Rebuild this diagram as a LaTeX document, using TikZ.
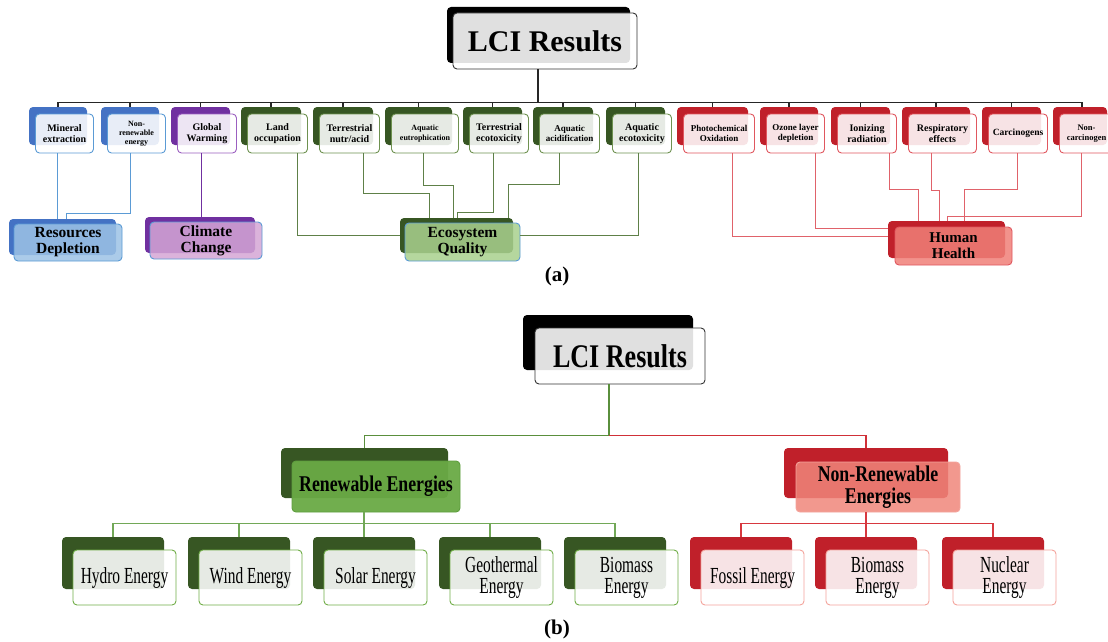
\documentclass[tikz,border=0pt]{standalone}
\usepackage{fontspec}
\setmainfont{Liberation Serif}
\newfontfamily\condf[FakeStretch=0.79]{Liberation Serif}
\newfontfamily\condg[FakeStretch=0.67]{Liberation Serif}
\usetikzlibrary{calc}
\definecolor{gback}{HTML}{375623}
\definecolor{gbord}{HTML}{6E9150}
\definecolor{gline}{HTML}{5E8048}
\definecolor{rback}{HTML}{C0202A}
\definecolor{rbord}{HTML}{E0575F}
\definecolor{rline}{HTML}{E0626A}
\definecolor{bback}{HTML}{4472C4}
\definecolor{bbord}{HTML}{5B9BD5}
\definecolor{pback}{HTML}{7030A0}
\definecolor{pbord}{HTML}{9B5FC0}
\definecolor{resfill}{HTML}{9DC3E6}
\definecolor{climfill}{HTML}{D5A6D5}
\definecolor{eqfill}{HTML}{A9D18E}
\definecolor{hhfill}{HTML}{F08078}
\definecolor{renfill}{HTML}{6AAA45}
\definecolor{renbord}{HTML}{5E9E3E}
\definecolor{nrfill}{HTML}{F0867B}
\definecolor{gbordb}{HTML}{70AD47}
\definecolor{rbordb}{HTML}{F4A49C}
\definecolor{glineb}{HTML}{5A8F3C}
\definecolor{rlineb}{HTML}{D03038}
\definecolor{glinec}{HTML}{72A857}
\definecolor{rlinec}{HTML}{D7383F}
\definecolor{lcibord}{HTML}{333333}
\newcommand\fs[2]{\fontsize{#1}{#2}\selectfont}
\newcommand\bx[7]{\node[#2, minimum width={(#5)-(#3)}, minimum height={(#6)-(#4)}] (#1) at ({((#3)+(#5))/2},{((#4)+(#6))/2}) {#7};}
\newcommand\rowa[7]{%
  \bx{#1B}{bkbox=#2}{#4}{107}{#5}{145}{}%
  \bx{#1}{frbox=#3,font=\bfseries#6}{#4+6.5}{114}{#5+6.5}{153}{#7}}
\newcommand\rowb[5]{%
  \bx{#1B}{bkbox=#2}{#4}{537}{#4+102}{589}{}%
  \bx{#1}{frbox=#3,font=\condg\fs{23}{21}}{#4+11}{550}{#4+114}{605}{#5}}
\begin{document}
\begin{tikzpicture}[x=1pt,y=-1pt,
  bkbox/.style={rectangle, rounded corners=4pt, inner sep=0pt, fill=#1},
  frbox/.style={rectangle, rounded corners=4pt, inner sep=0pt, align=center,
     draw=#1, line width=0.9pt, fill=white, fill opacity=0.88, text opacity=1, draw opacity=1},
  busl/.style={draw=black!85, line width=1.3pt},
  al/.style={draw=#1, line width=1pt},
  ul/.style={draw=#1, line width=1.8pt},
  sl/.style={draw=#1, line width=1.2pt},
  captext/.style={font=\bfseries\fs{21}{22}}]
\useasboundingbox[fill=white] (0,0) rectangle (1108,642);

% ---------- (a) ----------
\bx{lciaB}{bkbox=black}{447}{7}{630}{63}{}
\bx{lcia}{frbox=lcibord,font=\bfseries\fs{30}{32}}{453}{13}{637}{69}{LCI Results}

\rowa{mineral}{bback}{bbord}{29}{87}{\fs{10}{11}}{Mineral\\extraction}
\rowa{nonren}{bback}{bbord}{101}{159}{\fs{8}{9}}{Non-\\renewable\\energy}
\rowa{global}{pback}{pbord}{171}{230}{\fs{10}{11}}{Global\\Warming}
\rowa{land}{gback}{gbord}{241}{301}{\fs{10}{11}}{Land\\occupation}
\rowa{ternut}{gback}{gbord}{313}{373}{\fs{10}{11}}{Terrestrial\\nutr/acid}
\rowa{aqeut}{gback}{gbord}{385}{452}{\fs{8}{10}}{Aquatic\\eutrophication}
\rowa{tereco}{gback}{gbord}{463}{522}{\fs{10}{11}}{Terrestrial\\ecotoxicity}
\rowa{aqacid}{gback}{gbord}{533}{593}{\fs{9}{10}}{Aquatic\\acidification}
\rowa{aqeco}{gback}{gbord}{606}{665}{\fs{10}{11}}{Aquatic\\ecotoxicity}
\rowa{photo}{rback}{rbord}{677}{748}{\fs{9}{10}}{Photochemical\\Oxidation}
\rowa{ozone}{rback}{rbord}{760}{818}{\fs{9}{10}}{Ozone layer\\depletion}
\rowa{ion}{rback}{rbord}{831}{890}{\fs{10}{11}}{Ionizing\\radiation}
\rowa{resp}{rback}{rbord}{902}{970}{\fs{10}{11}}{Respiratory\\effects}
\rowa{carc}{rback}{rbord}{982}{1041}{\fs{9.5}{10}}{Carcinogens}
\rowa{nonc}{rback}{rbord}{1053}{1107}{\fs{8.5}{10}}{Non-\\carcinogen}

\bx{resB}{bkbox=bback}{9}{219}{116}{255}{}
\bx{res}{frbox=bbord,fill=resfill,fill opacity=0.85,font=\bfseries\fs{15.5}{16}}{14}{224}{122}{261}{Resources\\Depletion}
\bx{climB}{bkbox=pback}{145}{217}{255}{253}{}
\bx{clim}{frbox=bbord,fill=climfill,fill opacity=0.85,font=\bfseries\fs{15.5}{16}}{150}{222}{262}{259}{Climate\\Change}
\bx{eqB}{bkbox=gback}{400}{218}{513}{253}{}
\bx{eq}{frbox=bbord,fill=eqfill,fill opacity=0.85,font=\bfseries\fs{15.5}{16}}{405}{223}{520}{261}{Ecosystem\\Quality}
\bx{hhB}{bkbox=rback}{888}{221}{1005}{258}{}
\bx{hh}{frbox=rbord,fill=hhfill,fill opacity=0.85,font=\bfseries\fs{15}{16}}{895}{227}{1012}{265}{Human\\Health}

\node[captext] (capa) at (557,276) {(a)};

% bus (a)
\draw[busl] ([xshift=-7pt]lcia.south) -- ++(0,34);
\draw[busl] (mineralB.north) -- ++(0,-4) -| ([xshift=2pt]noncB.north);
\foreach \n in {nonren,global,land,ternut,aqeut,tereco,aqacid,aqeco,photo,ozone,ion,resp,carc}
  \draw[busl] (\n B.north) -- ++(0,-4);

% resources / climate
\draw[al=bbord] ([xshift=-7.5pt]mineral.south) -- ([xshift=-5.5pt]resB.north);
\draw[al=bbord] ([xshift=-6.5pt]nonren.south) -- ++(0,60) -| ([xshift=3.5pt]resB.north);
\draw[al=pback] ([xshift=-6pt]global.south) -- ([xshift=1pt]climB.north);

% ecosystem
\draw[al=gline] ([xshift=19.5pt]land.south) |- (eqB.west);
\draw[al=gline] ([xshift=13.5pt]ternut.south) -- ++(0,40) -| ([xshift=-27.5pt]eqB.north);
\draw[al=gline] ([xshift=-2pt]aqeut.south) -- ++(0,32) -| ([xshift=-3.5pt]eqB.north);
\draw[al=gline] ([xshift=-6pt]tereco.south) -- ++(0,59) -| ([xshift=0.5pt]eqB.north);
\draw[al=gline] ([xshift=-10.5pt]aqacid.south) -- ++(0,31) -| ([xshift=51.5pt]eqB.north);
\draw[al=gline] ([xshift=-4pt]aqeco.south) |- ([yshift=7pt]eq.east);

% human health
\draw[al=rline] ([xshift=13pt]photo.south) |- ([yshift=3.5pt]hhB.west);
\draw[al=rline] ([xshift=19.5pt]ozone.south) |- ([yshift=11.5pt]hhB.west);
\draw[al=rline] ([xshift=22pt]ion.south) -- ++(0,36) -| ([xshift=-28.5pt]hhB.north);
\draw[al=rline] ([xshift=-11.5pt]resp.south) -- ++(0,37) -| ([xshift=-7.5pt]hhB.north);
\draw[al=rline] ([xshift=-1pt]carc.south) -- ++(0,36) -| ([xshift=17.5pt]hhB.north);
\draw[al=rline] ([xshift=-5pt]nonc.south) -- ++(0,63) -| ([xshift=0.5pt]hhB.north);

% ---------- (b) ----------
\bx{lcibB}{bkbox=black}{523}{315}{693}{370}{}
\bx{lcib}{frbox=lcibord,font=\condf\bfseries\fs{33}{34}}{535}{328}{705}{384}{LCI Results}

\bx{renB}{bkbox=gback}{281}{448}{448}{498}{}
\bx{ren}{frbox=renbord,fill=renfill,fill opacity=0.95,font=\condf\bfseries\fs{22.5}{22}}{292}{461}{460}{512}{Renewable Energies}
\bx{nrB}{bkbox=rback}{784}{448}{948}{498}{}
\bx{nr}{frbox=rbordb,fill=nrfill,fill opacity=0.85,font=\condf\bfseries\fs{22.5}{22}}{796}{462}{960}{512}{Non-Renewable\\Energies}

\rowb{hydro}{gback}{gbordb}{62}{Hydro Energy}
\rowb{wind}{gback}{gbordb}{188}{Wind Energy}
\rowb{solar}{gback}{gbordb}{313}{Solar Energy}
\rowb{geo}{gback}{gbordb}{439}{Geothermal\\Energy}
\rowb{biog}{gback}{gbordb}{564}{Biomass\\Energy}
\rowb{fossil}{rback}{rbordb}{690}{Fossil Energy}
\rowb{bior}{rback}{rbordb}{815}{Biomass\\Energy}
\rowb{nuc}{rback}{rbordb}{942}{Nuclear\\Energy}

\node[captext] (capb) at (557,629) {(b)};

\draw[ul=glineb] ([xshift=-11pt]lcib.south) -- ++(0,51) coordinate (jb) -| (renB.north);
\draw[ul=rlineb] (jb) -| (nrB.north);
\draw[sl=glinec] ([xshift=-12pt]ren.south) -- (solarB.north);
\draw[sl=glinec] (hydroB.north) -- ++(0,-13) -| (biogB.north);
\draw[sl=glinec] (windB.north) -- ++(0,-13);
\draw[sl=glinec] (geoB.north) -- ++(0,-13);
\draw[sl=rlinec] ([xshift=-12pt]nr.south) -- (biorB.north);
\draw[sl=rlinec] (fossilB.north) -- ++(0,-13) -| (nucB.north);
\end{tikzpicture}
\end{document}
